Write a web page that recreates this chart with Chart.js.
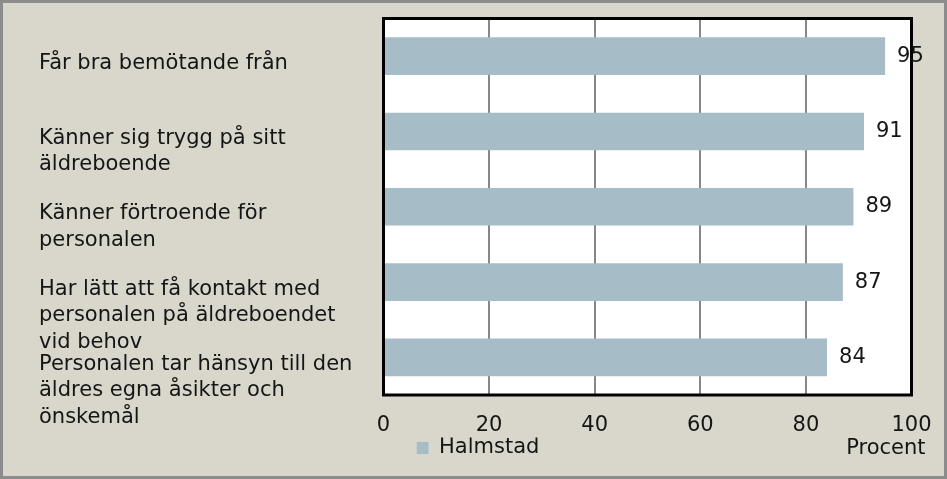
<!DOCTYPE html>
<html>
<head>
<meta charset="utf-8">
<script src="https://cdn.jsdelivr.net/npm/chart.js@4.4.1/dist/chart.umd.min.js"></script>
<style>
  html, body { margin: 0; padding: 0; background: #d9d7cb; }
  #wrap { width: 947px; height: 479px; position: relative; }
</style>
</head>
<body>
<div id="wrap"><canvas id="myChart"></canvas></div>
<script>
const categories = [
	['Får bra bemötande från'],
	['Känner sig trygg på sitt', 'äldreboende'],
	['Känner förtroende för', 'personalen'],
	['Har lätt att få kontakt med', 'personalen på äldreboendet', 'vid behov'],
	['Personalen tar hänsyn till den', 'äldres egna åsikter och', 'önskemål'],
];
const halmstad = [95, 91, 89, 87, 84];
const seriesName = 'Halmstad';
const xMin = 0;
const xMax = 100;
const xStep = 20;
const axisUnit = 'Procent';

const BAR = '#a6bcc7';
const INK = '#151515';
const FONT = "'DejaVu Sans', sans-serif";

Chart.defaults.font.family = FONT;
Chart.defaults.font.size = 21;
Chart.defaults.color = INK;

// beige page, grey outer border and white plot area
const background = {
	id: 'background',
	beforeDraw(chart) {
		const { ctx, width, height, chartArea: a } = chart;
		ctx.save();
		ctx.fillStyle = '#d9d7cb';
		ctx.fillRect(0, 0, width, height);
		ctx.strokeStyle = '#8c8c8c';
		ctx.lineWidth = 3;
		ctx.strokeRect(1.5, 1.5, width - 3, height - 3);
		ctx.fillStyle = '#ffffff';
		ctx.fillRect(a.left, a.top, a.width, a.height);
		ctx.restore();
	},
};

// frame, category texts, value texts and the unit
const frameAndLabels = {
	id: 'frameAndLabels',
	afterLayout(chart) {
		// legend sits a bit in from the plot edge, like the original
		chart.legend.left += 33;
		chart.legend.right += 33;
	},
	afterDatasetsDraw(chart) {
		const { ctx, chartArea: a, scales: { y } } = chart;
		ctx.save();
		ctx.strokeStyle = '#000000';
		ctx.lineWidth = 3;
		ctx.strokeRect(a.left, a.top, a.width, a.height);

		ctx.fillStyle = INK;
		ctx.textBaseline = 'middle';
		ctx.textAlign = 'left';
		ctx.font = '21px ' + FONT;
		categories.forEach((lines, i) => {
			const y0 = y.getPixelForValue(i) + 7;
			lines.forEach((t, k) => ctx.fillText(t, 39, y0 + k * 26.5));
		});

		chart.getDatasetMeta(0).data.forEach((bar, i) => {
			ctx.fillText(String(halmstad[i]), bar.x + 12, bar.y);
		});

		ctx.textAlign = 'right';
		ctx.fillText(axisUnit, a.right + 14, 449);
		ctx.restore();
	},
};

const ctx = document.getElementById('myChart').getContext('2d');

new Chart(ctx, {
	type: 'bar',
	data: {
		labels: categories,
		datasets: [
			{
				label: seriesName,
				data: halmstad,
				backgroundColor: BAR,
				borderWidth: 0,
				barPercentage: 0.5,
				categoryPercentage: 1,
			},
		],
	},
	options: {
		indexAxis: 'y',
		responsive: true,
		maintainAspectRatio: false,
		animation: false,
		layout: {
			padding: { left: 383.5, right: 35.5, top: 18.5, bottom: 10.6 },
		},
		scales: {
			x: {
				min: xMin,
				max: xMax,
				ticks: { stepSize: xStep, padding: 17.5, color: INK },
				grid: { color: '#878787', lineWidth: 2, drawTicks: false },
				border: { display: false },
				afterFit(scale) {
					scale.height = 42.4;
					scale.paddingLeft = 0;
					scale.paddingRight = 0;
				},
			},
			y: {
				display: false,
			},
		},
		plugins: {
			tooltip: { enabled: false },
			legend: {
				position: 'bottom',
				align: 'start',
				labels: { boxWidth: 12, boxHeight: 12, padding: 0, color: INK },
			},
		},
	},
	plugins: [background, frameAndLabels],
});
</script>
</body>
</html>
